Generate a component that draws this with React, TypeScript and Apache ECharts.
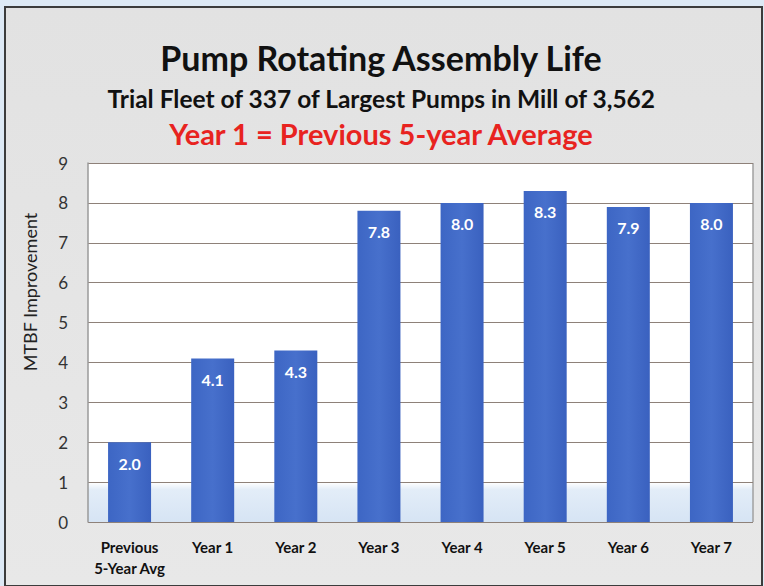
import React, { useEffect, useRef } from "react";
import * as echarts from "echarts";

const categories = ["Previous\n5-Year Avg", "Year 1", "Year 2", "Year 3", "Year 4", "Year 5", "Year 6", "Year 7"];
const values = [2.0, 4.1, 4.3, 7.8, 8.0, 8.3, 7.9, 8.0];
const titleText = "Pump Rotating Assembly Life";
const subtitleText = "Trial Fleet of 337 of Largest Pumps in Mill of 3,562";
const noteText = "Year 1 = Previous 5-year Average";
const yAxisName = "MTBF Improvement";

export default function App() {
  const ref = useRef<HTMLDivElement>(null);
  useEffect(() => {
    if (!ref.current) return;
    const chart = echarts.init(ref.current, null, { renderer: "svg" });
    const font = "Lato, 'Open Sans', sans-serif";
    chart.setOption({
      animation: false,
      backgroundColor: "#dde9f5",
      graphic: [
        {
          type: "rect",
          z: -10,
          shape: { x: 5, y: 7, width: 757, height: 579 },
          style: {
            fill: new echarts.graphic.LinearGradient(0, 0, 0, 1, [
              { offset: 0, color: "#e2e2e2" },
              { offset: 1, color: "#e8e8e8" },
            ]),
            stroke: "#3c3c3c",
            lineWidth: 2,
          },
        },
        {
          type: "text",
          left: "center",
          top: 40,
          style: { text: titleText, fill: "#111", font: `bold 34px ${font}` },
        },
        {
          type: "text",
          left: "center",
          top: 86,
          style: { text: subtitleText, fill: "#111", font: `bold 24.5px ${font}` },
        },
        {
          type: "text",
          left: "center",
          top: 119,
          style: { text: noteText, fill: "#e8231f", font: `bold 29px ${font}` },
        },
        {
          type: "text",
          x: 30,
          y: 292,
          rotation: Math.PI / 2,
          style: {
            text: yAxisName,
            fill: "#222",
            font: `18px ${font}`,
            align: "center",
            verticalAlign: "middle",
          },
        },
        {
          type: "line",
          shape: { x1: 753, y1: 163, x2: 753, y2: 522 },
          style: { stroke: "#a0a0a0", lineWidth: 1.5 },
        },
      ],
      grid: {
        left: 88,
        right: 11,
        top: 163,
        bottom: 64,
        show: true,
        borderWidth: 0,
        backgroundColor: new echarts.graphic.LinearGradient(0, 0, 0, 1, [
          { offset: 0, color: "#ffffff" },
          { offset: 0.89, color: "#ffffff" },
          { offset: 0.91, color: "#e3edf8" },
          { offset: 1, color: "#d6e4f4" },
        ]),
      },
      xAxis: {
        type: "category",
        data: categories,
        axisLine: { show: false },
        axisTick: { show: false },
        axisLabel: {
          interval: 0,
          color: "#111",
          fontFamily: font,
          fontWeight: "bold",
          fontSize: 15,
          margin: 14,
          lineHeight: 21,
        },
      },
      yAxis: {
        type: "value",
        min: 0,
        max: 9,
        interval: 1,
        axisLine: { show: true, lineStyle: { color: "#9a9a9a", width: 1.5 } },
        axisTick: { show: false },
        axisLabel: { color: "#333", fontFamily: font, fontSize: 17, margin: 20 },
        splitLine: { lineStyle: { color: "#8e8179", width: 1.2 } },
      },
      series: [
        {
          type: "bar",
          data: values,
          barWidth: 43,
          itemStyle: {
            color: new echarts.graphic.LinearGradient(0, 0, 1, 0, [
              { offset: 0, color: "#3d66c4" },
              { offset: 0.5, color: "#4770cc" },
              { offset: 1, color: "#3a61bf" },
            ]),
          },
          label: {
            show: true,
            position: "insideTop",
            distance: 13,
            color: "#ffffff",
            fontFamily: font,
            fontWeight: "bold",
            fontSize: 16,
            formatter: (p: any) => p.value.toFixed(1),
          },
        },
      ],
    });
    return () => chart.dispose();
  }, []);
  return <div ref={ref} style={{ width: 764, height: 586, position: "fixed", left: 0, top: 0 }} />;
}
